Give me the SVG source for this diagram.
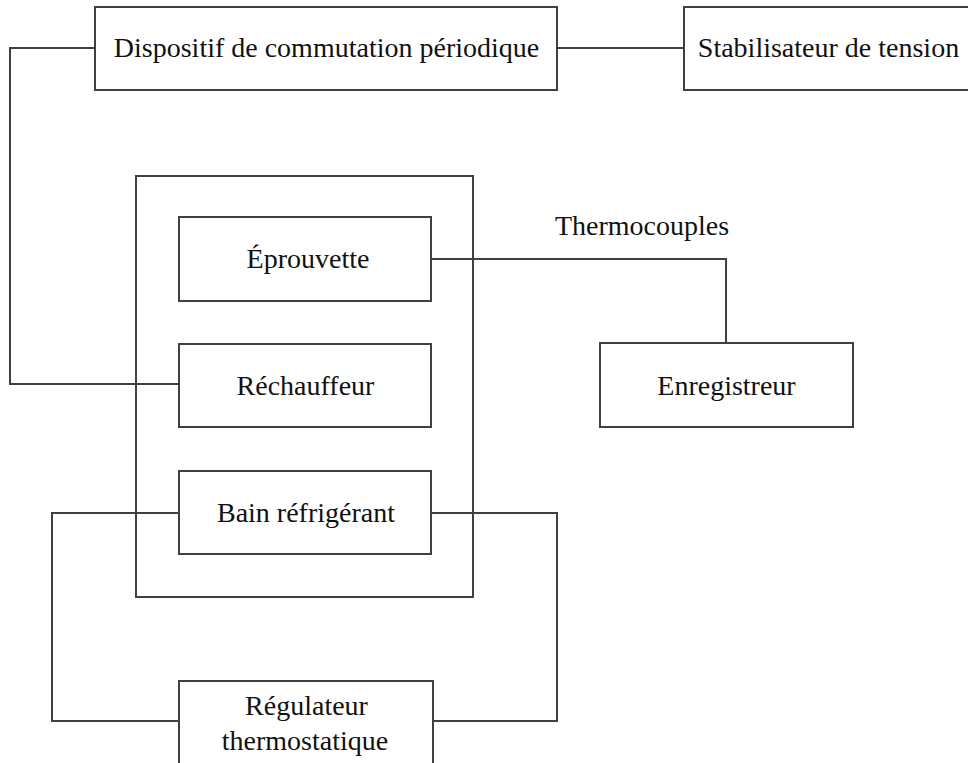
<svg xmlns="http://www.w3.org/2000/svg" width="968" height="763" viewBox="0 0 968 763">
<style>
.box{fill:#fff;stroke:#404040;stroke-width:2}
.frame{fill:none;stroke:#404040;stroke-width:2}
.ln{fill:none;stroke:#404040;stroke-width:2}
text{font-family:"Liberation Serif","DejaVu Serif",serif;font-size:28px;fill:#111;text-anchor:middle}
</style>
<rect width="968" height="763" fill="#fff"/>
<g id="connectors">
<polyline class="ln" points="95,48 10,48 10,384 179,384"/>
<line class="ln" x1="557" y1="48" x2="684" y2="48"/>
<polyline class="ln" points="431,259 726,259 726,343"/>
<polyline class="ln" points="179,513 52,513 52,721 179,721"/>
<polyline class="ln" points="431,513 557,513 557,721 433,721"/>
</g>
<g id="enceinte"><rect class="frame" x="136" y="176" width="337" height="421"/></g>
<g id="dispositif"><rect class="box" x="95" y="7" width="462" height="83"/><text x="326.5" y="57">Dispositif de commutation périodique</text></g>
<g id="stabilisateur"><rect class="box" x="684" y="7" width="300" height="83"/><text x="828.5" y="57">Stabilisateur de tension</text></g>
<g id="eprouvette"><rect class="box" x="179" y="217" width="252" height="84"/><text x="308" y="268">Éprouvette</text></g>
<g id="rechauffeur"><rect class="box" x="179" y="344" width="252" height="83"/><text x="305.5" y="395">Réchauffeur</text></g>
<g id="bain"><rect class="box" x="179" y="471" width="252" height="83"/><text x="306" y="522">Bain réfrigérant</text></g>
<g id="thermocouples"><text x="642" y="235">Thermocouples</text></g>
<g id="enregistreur"><rect class="box" x="600" y="343" width="253" height="84"/><text x="726.5" y="395">Enregistreur</text></g>
<g id="regulateur"><rect class="box" x="179" y="681" width="254" height="100"/><text x="306.5" y="715">Régulateur</text><text x="305" y="750">thermostatique</text></g>
</svg>
